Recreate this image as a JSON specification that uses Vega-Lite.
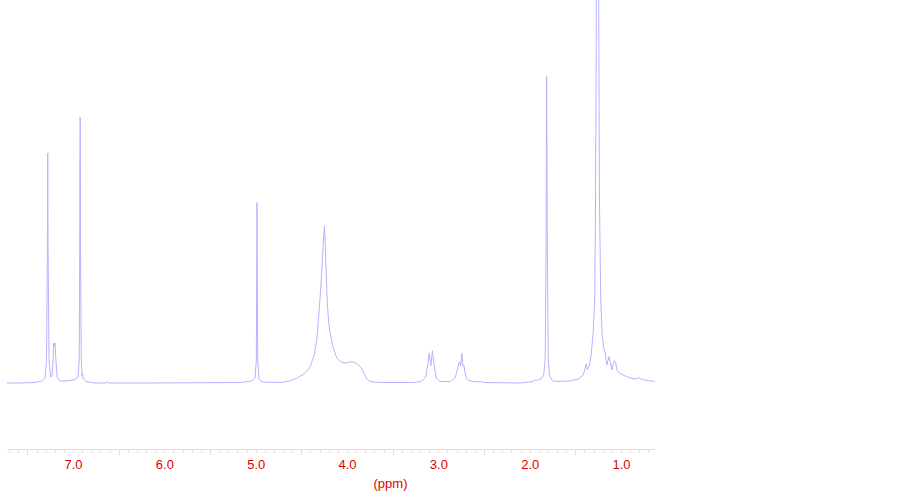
{
  "$schema": "https://vega.github.io/schema/vega-lite/v6.json",
  "width": 648,
  "height": 449,
  "autosize": {"type": "none"},
  "padding": {"left": 7, "top": 0, "right": 247, "bottom": 50},
  "background": "white",
  "config": {"view": {"stroke": null}},
  "data": {"values": [
    {"p": 7.723, "i": 0}, {"p": 7.58, "i": 0}, {"p": 7.416, "i": 0.5}, {"p": 7.34, "i": 2}, {"p": 7.307, "i": 5},
    {"p": 7.29, "i": 23}, {"p": 7.281, "i": 133}, {"p": 7.277, "i": 230}, {"p": 7.273, "i": 133}, {"p": 7.263, "i": 23},
    {"p": 7.246, "i": 6}, {"p": 7.23, "i": 7}, {"p": 7.219, "i": 23}, {"p": 7.211, "i": 40}, {"p": 7.205, "i": 37},
    {"p": 7.197, "i": 40}, {"p": 7.188, "i": 23}, {"p": 7.175, "i": 6}, {"p": 7.142, "i": 2}, {"p": 7.088, "i": 2},
    {"p": 7.033, "i": 2.5}, {"p": 6.978, "i": 3.5}, {"p": 6.945, "i": 6}, {"p": 6.932, "i": 23}, {"p": 6.927, "i": 133},
    {"p": 6.922, "i": 266}, {"p": 6.918, "i": 133}, {"p": 6.91, "i": 23}, {"p": 6.901, "i": 7}, {"p": 6.897, "i": 10},
    {"p": 6.89, "i": 5}, {"p": 6.858, "i": 1.5}, {"p": 6.759, "i": 0}, {"p": 6.639, "i": 0}, {"p": 6.628, "i": 1.5},
    {"p": 6.617, "i": 0}, {"p": 6.157, "i": 0}, {"p": 5.171, "i": 0.5}, {"p": 5.04, "i": 2}, {"p": 5.007, "i": 5},
    {"p": 4.993, "i": 23}, {"p": 4.989, "i": 103}, {"p": 4.986, "i": 180.5}, {"p": 4.982, "i": 103}, {"p": 4.978, "i": 23},
    {"p": 4.963, "i": 4}, {"p": 4.93, "i": 1}, {"p": 4.733, "i": 0.5}, {"p": 4.623, "i": 2}, {"p": 4.547, "i": 5},
    {"p": 4.47, "i": 9}, {"p": 4.404, "i": 16}, {"p": 4.36, "i": 28}, {"p": 4.331, "i": 43}, {"p": 4.305, "i": 73},
    {"p": 4.289, "i": 93}, {"p": 4.273, "i": 118}, {"p": 4.258, "i": 143}, {"p": 4.248, "i": 157}, {"p": 4.24, "i": 143},
    {"p": 4.229, "i": 113}, {"p": 4.218, "i": 83}, {"p": 4.201, "i": 61}, {"p": 4.185, "i": 50}, {"p": 4.152, "i": 35},
    {"p": 4.112, "i": 25}, {"p": 4.065, "i": 21}, {"p": 4.021, "i": 20}, {"p": 3.977, "i": 21}, {"p": 3.93, "i": 21},
    {"p": 3.9, "i": 19.5}, {"p": 3.875, "i": 18}, {"p": 3.846, "i": 15}, {"p": 3.82, "i": 11}, {"p": 3.783, "i": 4},
    {"p": 3.747, "i": 1.5}, {"p": 3.637, "i": 0.5}, {"p": 3.254, "i": 0.5}, {"p": 3.177, "i": 2}, {"p": 3.139, "i": 6},
    {"p": 3.117, "i": 18}, {"p": 3.101, "i": 29.7}, {"p": 3.082, "i": 17}, {"p": 3.065, "i": 32.3}, {"p": 3.046, "i": 17},
    {"p": 3.024, "i": 5}, {"p": 2.98, "i": 1.5}, {"p": 2.871, "i": 1.5}, {"p": 2.816, "i": 5}, {"p": 2.789, "i": 15},
    {"p": 2.769, "i": 21.3}, {"p": 2.756, "i": 17}, {"p": 2.743, "i": 29.7}, {"p": 2.732, "i": 17}, {"p": 2.721, "i": 18},
    {"p": 2.706, "i": 9}, {"p": 2.685, "i": 3.5}, {"p": 2.63, "i": 1.5}, {"p": 2.531, "i": 1}, {"p": 2.524, "i": 2},
    {"p": 2.509, "i": 0.5}, {"p": 2.104, "i": 0}, {"p": 1.962, "i": 1.5}, {"p": 1.929, "i": 3.5}, {"p": 1.918, "i": 2},
    {"p": 1.896, "i": 4}, {"p": 1.874, "i": 4}, {"p": 1.847, "i": 8}, {"p": 1.831, "i": 23}, {"p": 1.821, "i": 133},
    {"p": 1.814, "i": 306.5}, {"p": 1.807, "i": 133}, {"p": 1.797, "i": 23}, {"p": 1.781, "i": 7}, {"p": 1.754, "i": 2.5},
    {"p": 1.71, "i": 1.5}, {"p": 1.557, "i": 2}, {"p": 1.469, "i": 4}, {"p": 1.414, "i": 8}, {"p": 1.392, "i": 15},
    {"p": 1.381, "i": 19}, {"p": 1.37, "i": 13}, {"p": 1.349, "i": 17}, {"p": 1.327, "i": 28}, {"p": 1.305, "i": 50},
    {"p": 1.288, "i": 83}, {"p": 1.279, "i": 183}, {"p": 1.272, "i": 333}, {"p": 1.267, "i": 483}, {"p": 1.258, "i": 633},
    {"p": 1.248, "i": 483}, {"p": 1.243, "i": 333}, {"p": 1.236, "i": 183}, {"p": 1.222, "i": 83}, {"p": 1.206, "i": 48},
    {"p": 1.19, "i": 35}, {"p": 1.173, "i": 30}, {"p": 1.155, "i": 18}, {"p": 1.132, "i": 26.3}, {"p": 1.118, "i": 21},
    {"p": 1.1, "i": 13}, {"p": 1.086, "i": 20}, {"p": 1.071, "i": 22.5}, {"p": 1.058, "i": 20}, {"p": 1.042, "i": 12},
    {"p": 1.009, "i": 9.5}, {"p": 0.954, "i": 7}, {"p": 0.899, "i": 5}, {"p": 0.845, "i": 4}, {"p": 0.813, "i": 4.5},
    {"p": 0.798, "i": 5.7}, {"p": 0.78, "i": 3.5}, {"p": 0.703, "i": 2.5}, {"p": 0.628, "i": 1.5}
  ]},
  "mark": {"type": "line", "color": "#b4b4ff", "strokeWidth": 1, "clip": true, "interpolate": "linear"},
  "encoding": {
    "x": {
      "field": "p",
      "type": "quantitative",
      "scale": {"domain": [0.628, 7.723], "reverse": true, "nice": false, "zero": false},
      "axis": {
        "orient": "bottom",
        "values": [0.7,0.8,0.9,1.0,1.1,1.2,1.3,1.4,1.5,1.6,1.7,1.8,1.9,2.0,2.1,2.2,2.3,2.4,2.5,2.6,2.7,2.8,2.9,3.0,3.1,3.2,3.3,3.4,3.5,3.6,3.7,3.8,3.9,4.0,4.1,4.2,4.3,4.4,4.5,4.6,4.7,4.8,4.9,5.0,5.1,5.2,5.3,5.4,5.5,5.6,5.7,5.8,5.9,6.0,6.1,6.2,6.3,6.4,6.5,6.6,6.7,6.8,6.9,7.0,7.1,7.2,7.3,7.4,7.5,7.6,7.7],
        "labelExpr": "abs(datum.value - round(datum.value)) < 0.01 ? format(datum.value, '.1f') : ''",
        "labelOverlap": false,
        "labelFlush": false,
        "labelBound": false,
        "grid": false,
        "domainColor": "#ffd0d0",
        "tickColor": "#ffd0d0",
        "tickSize": {"condition": {"test": "abs(datum.value - floor(datum.value) - 0.5) < 0.01", "value": 6}, "value": 3},
        "tickWidth": 1,
        "labelFont": "Liberation Sans",
        "labelFontSize": 13,
        "labelColor": "#e00000",
        "labelPadding": 6,
        "title": "(ppm)",
        "titleFont": "Liberation Sans",
        "titleFontSize": 13,
        "titleFontWeight": "normal",
        "titleColor": "#e00000",
        "titleX": 383,
        "titleY": 34,
        "titleAlign": "center",
        "titleBaseline": "middle",
        "titleAnchor": null
      }
    },
    "y": {
      "field": "i",
      "type": "quantitative",
      "scale": {"domain": [-66, 383], "nice": false, "zero": false},
      "axis": null
    }
  }
}
